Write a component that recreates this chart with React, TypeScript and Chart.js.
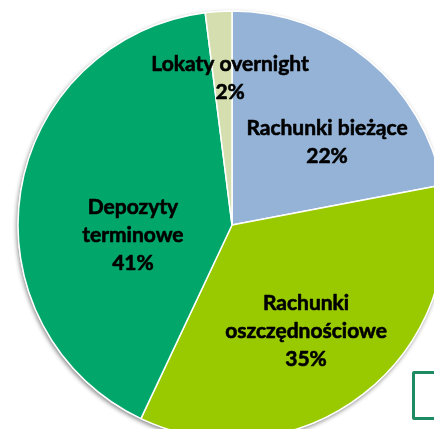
import React, { useEffect, useRef } from "react";
import { Chart, registerables } from "chart.js";

Chart.register(...registerables);

const categories = ["Rachunki bieżące", "Rachunki oszczędnościowe", "Depozyty terminowe", "Lokaty overnight"];
const labelLines = [["Rachunki bieżące"], ["Rachunki", "oszczędnościowe"], ["Depozyty", "terminowe"], ["Lokaty overnight"]];
const values = [22, 35, 41, 2];
const colors = ["#95B3D7", "#99CA00", "#00A66A", "#D4DEAE"];
// label anchor offsets in units of the outer radius
const labelOffsets = [
  [0.444, -0.388],
  [0.346, 0.495],
  [-0.463, 0.047],
  [-0.009, -0.687],
];

const FONT = "Lato, 'Open Sans', sans-serif";

const shadowPlugin = {
  id: "pieShadow",
  beforeDatasetsDraw(chart: any) {
    const arc = chart.getDatasetMeta(0).data[0];
    if (!arc) return;
    const { x, y, outerRadius } = arc.getProps(["x", "y", "outerRadius"], true);
    const ctx = chart.ctx;
    ctx.save();
    ctx.shadowColor = "rgba(0,0,0,0.45)";
    ctx.shadowBlur = 4;
    ctx.shadowOffsetX = -1;
    ctx.shadowOffsetY = 2;
    ctx.beginPath();
    ctx.arc(x, y, outerRadius + 0.5, 0, Math.PI * 2);
    ctx.fillStyle = "#ffffff";
    ctx.fill();
    ctx.restore();
  },
};

const labelPlugin = {
  id: "pieLabels",
  afterDatasetsDraw(chart: any) {
    const meta = chart.getDatasetMeta(0);
    const ctx = chart.ctx;
    ctx.save();
    ctx.font = `bold 21px ${FONT}`;
    ctx.fillStyle = "#000000";
    ctx.strokeStyle = "#000000";
    ctx.lineWidth = 0.6;
    ctx.lineJoin = "round";
    ctx.textAlign = "center";
    ctx.textBaseline = "middle";
    const lineH = 28;
    meta.data.forEach((arc: any, i: number) => {
      const { x, y, outerRadius } = arc.getProps(["x", "y", "outerRadius"], true);
      const cx = x + labelOffsets[i][0] * outerRadius;
      const cy = y + labelOffsets[i][1] * outerRadius;
      const lines = [...labelLines[i], `${values[i]}%`];
      const startY = cy - ((lines.length - 1) * lineH) / 2;
      lines.forEach((t, j) => {
        ctx.fillText(t, cx, startY + j * lineH);
        ctx.strokeText(t, cx, startY + j * lineH);
      });
    });
    ctx.restore();
  },
};

export default function App() {
  const ref = useRef<HTMLCanvasElement | null>(null);
  useEffect(() => {
    if (!ref.current) return;
    const chart = new Chart(ref.current, {
      type: "pie",
      data: {
        labels: categories,
        datasets: [
          {
            data: values,
            backgroundColor: colors,
            borderColor: "#ffffff",
            borderWidth: 1.5,
            hoverOffset: 0,
          },
        ],
      },
      options: {
        responsive: false,
        animation: false,
        radius: 214,
        layout: { padding: 0 },
        plugins: {
          legend: { display: false },
          tooltip: { enabled: false },
        },
      } as any,
      plugins: [shadowPlugin, labelPlugin],
    });
    return () => chart.destroy();
  }, []);
  return (
    <div style={{ position: "fixed", left: 0, top: 0, width: 434, height: 429, overflow: "hidden", background: "#fff" }}>
      <canvas ref={ref} width={440} height={440} style={{ position: "absolute", left: 12, top: 5, width: 440, height: 440 }} />
      <div
        style={{
          position: "absolute",
          left: 412,
          top: 371,
          width: 40,
          height: 49,
          border: "3px solid #1F8B62",
          borderRadius: 2,
          boxSizing: "border-box",
        }}
      />
    </div>
  );
}
